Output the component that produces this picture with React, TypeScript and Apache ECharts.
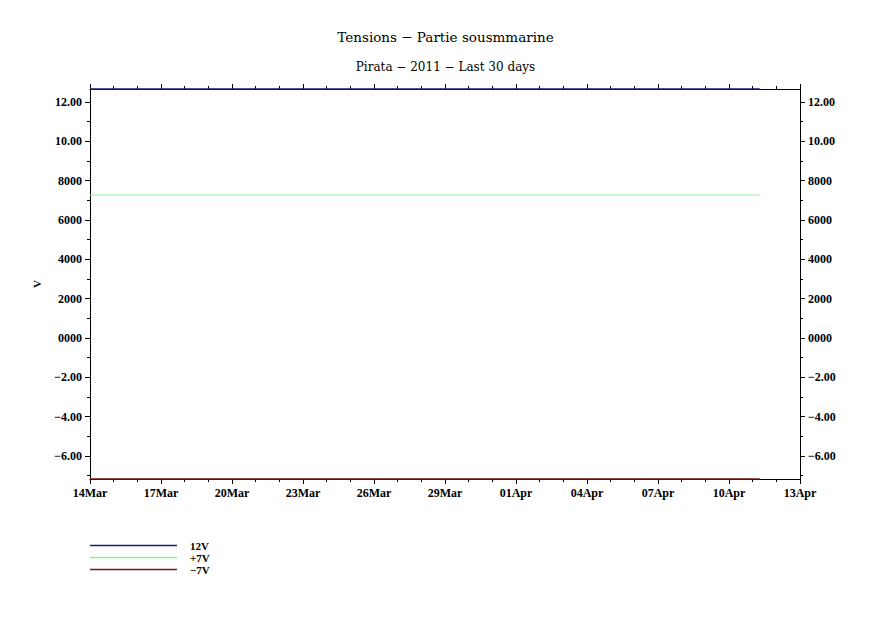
import React, { useEffect, useRef } from "react";
import * as echarts from "echarts";

// Days since 14 Mar 2011 00:00
const dayOffsets = [0, 28.3];
const v12 = [12.66, 12.66];
const vPlus7 = [7.27, 7.27];
const vMinus7 = [-7.17, -7.17];

const seriesNames = ["12V", "+7V", "\u22127V"];
const seriesColors = ["#1a1a7a", "#90ee90", "#7a1010"];

const xTickDays = [0, 3, 6, 9, 12, 15, 18, 21, 24, 27, 30];
const xTickLabels = ["14Mar", "17Mar", "20Mar", "23Mar", "26Mar", "29Mar", "01Apr", "04Apr", "07Apr", "10Apr", "13Apr"];

const yMajor = [-6, -4, -2, 0, 2, 4, 6, 8, 10, 12];
const yLabels = ["\u22126.00", "\u22124.00", "\u22122.00", "0000", "2000", "4000", "6000", "8000", "10.00", "12.00"];
const yMinor = [-7, -5, -3, -1, 1, 3, 5, 7, 9, 11];

const Y_MIN = -7.17;
const Y_MAX = 12.66;

const FONT = "Liberation Serif";
const TITLE_FONT = "DejaVu Serif";

export default function App() {
  const ref = useRef<HTMLDivElement>(null);
  useEffect(() => {
    if (!ref.current) return;
    const chart = echarts.init(ref.current, null, { renderer: "svg" });
    const axisLine = { show: true, onZero: false, lineStyle: { color: "#000", width: 1 } };
    const labelStyle = { fontFamily: FONT, fontSize: 12, fontWeight: "bold" as const, color: "#000" };
    const yLabelFmt = (v: number) => {
      const i = yMajor.indexOf(Math.round(v));
      return i >= 0 ? yLabels[i] : "";
    };
    const yBase = (position: "left" | "right", major: boolean, showLabel: boolean) => ({
      type: "value" as const,
      position,
      min: Y_MIN,
      max: Y_MAX,
      axisLine,
      splitLine: { show: false },
      axisTick: {
        show: true,
        length: major ? 5 : 3,
        lineStyle: { color: "#000" },
        customValues: major ? yMajor : yMinor,
      },
      axisLabel: {
        show: showLabel,
        margin: 8,
        customValues: yMajor,
        formatter: yLabelFmt,
        ...labelStyle,
      },
    });
    const data = (vals: number[]) => dayOffsets.map((d, i) => [d, vals[i]]);
    chart.setOption({
      animation: false,
      backgroundColor: "#fff",
      title: [
        {
          text: "Tensions \u2212 Partie sousmmarine",
          left: "center",
          top: 25,
          textStyle: { fontFamily: TITLE_FONT, fontSize: 13.5, fontWeight: "normal", color: "#000" },
        },
        {
          text: "Pirata \u2212 2011 \u2212 Last 30 days",
          left: "center",
          top: 56,
          textStyle: { fontFamily: TITLE_FONT, fontSize: 12, fontWeight: "normal", color: "#000" },
        },
      ],
      legend: {
        orient: "vertical",
        left: 85,
        top: 535,
        itemWidth: 87,
        itemHeight: 1.5,
        itemGap: 1,
        icon: "rect",
        data: seriesNames,
        textStyle: { fontFamily: FONT, fontSize: 11, fontWeight: "bold", color: "#000", padding: [0, 0, 0, 8] },
      },
      grid: { left: 90, right: 91, top: 89, bottom: 151, containLabel: false },
      xAxis: [
        {
          type: "value",
          position: "bottom",
          min: 0,
          max: 30,
          interval: 3,
          axisLine,
          splitLine: { show: false },
          axisTick: { show: true, length: 5, lineStyle: { color: "#000" } },
          minorTick: { show: true, splitNumber: 3, length: 3, lineStyle: { color: "#000" } },
          axisLabel: {
            margin: 8,
            formatter: (v: number) => {
              const i = xTickDays.indexOf(Math.round(v));
              return i >= 0 ? xTickLabels[i] : "";
            },
            ...labelStyle,
          },
        },
        {
          type: "value",
          position: "top",
          min: 0,
          max: 30,
          interval: 3,
          axisLine,
          splitLine: { show: false },
          axisTick: { show: true, length: 5, lineStyle: { color: "#000" } },
          minorTick: { show: true, splitNumber: 3, length: 3, lineStyle: { color: "#000" } },
          axisLabel: { show: false },
        },
      ],
      yAxis: [
        {
          ...yBase("left", true, true),
          name: "V",
          nameLocation: "middle",
          nameGap: 48,
          nameTextStyle: { fontFamily: FONT, fontSize: 11, fontWeight: "bold", color: "#000" },
        },
        yBase("left", false, false),
        yBase("right", true, true),
        yBase("right", false, false),
      ],
      series: [
        { name: seriesNames[0], type: "line", clip: false, data: data(v12), showSymbol: false, lineStyle: { width: 1.5, color: seriesColors[0] }, itemStyle: { color: seriesColors[0] }, z: 5 },
        { name: seriesNames[1], type: "line", clip: false, data: data(vPlus7), showSymbol: false, lineStyle: { width: 1, color: seriesColors[1] }, itemStyle: { color: seriesColors[1] } },
        { name: seriesNames[2], type: "line", clip: false, data: data(vMinus7), showSymbol: false, lineStyle: { width: 1.5, color: seriesColors[2] }, itemStyle: { color: seriesColors[2] }, z: 5 },
      ],
    });
    return () => chart.dispose();
  }, []);
  return <div ref={ref} style={{ width: 891, height: 630, position: "absolute", left: 0, top: 0 }} />;
}
